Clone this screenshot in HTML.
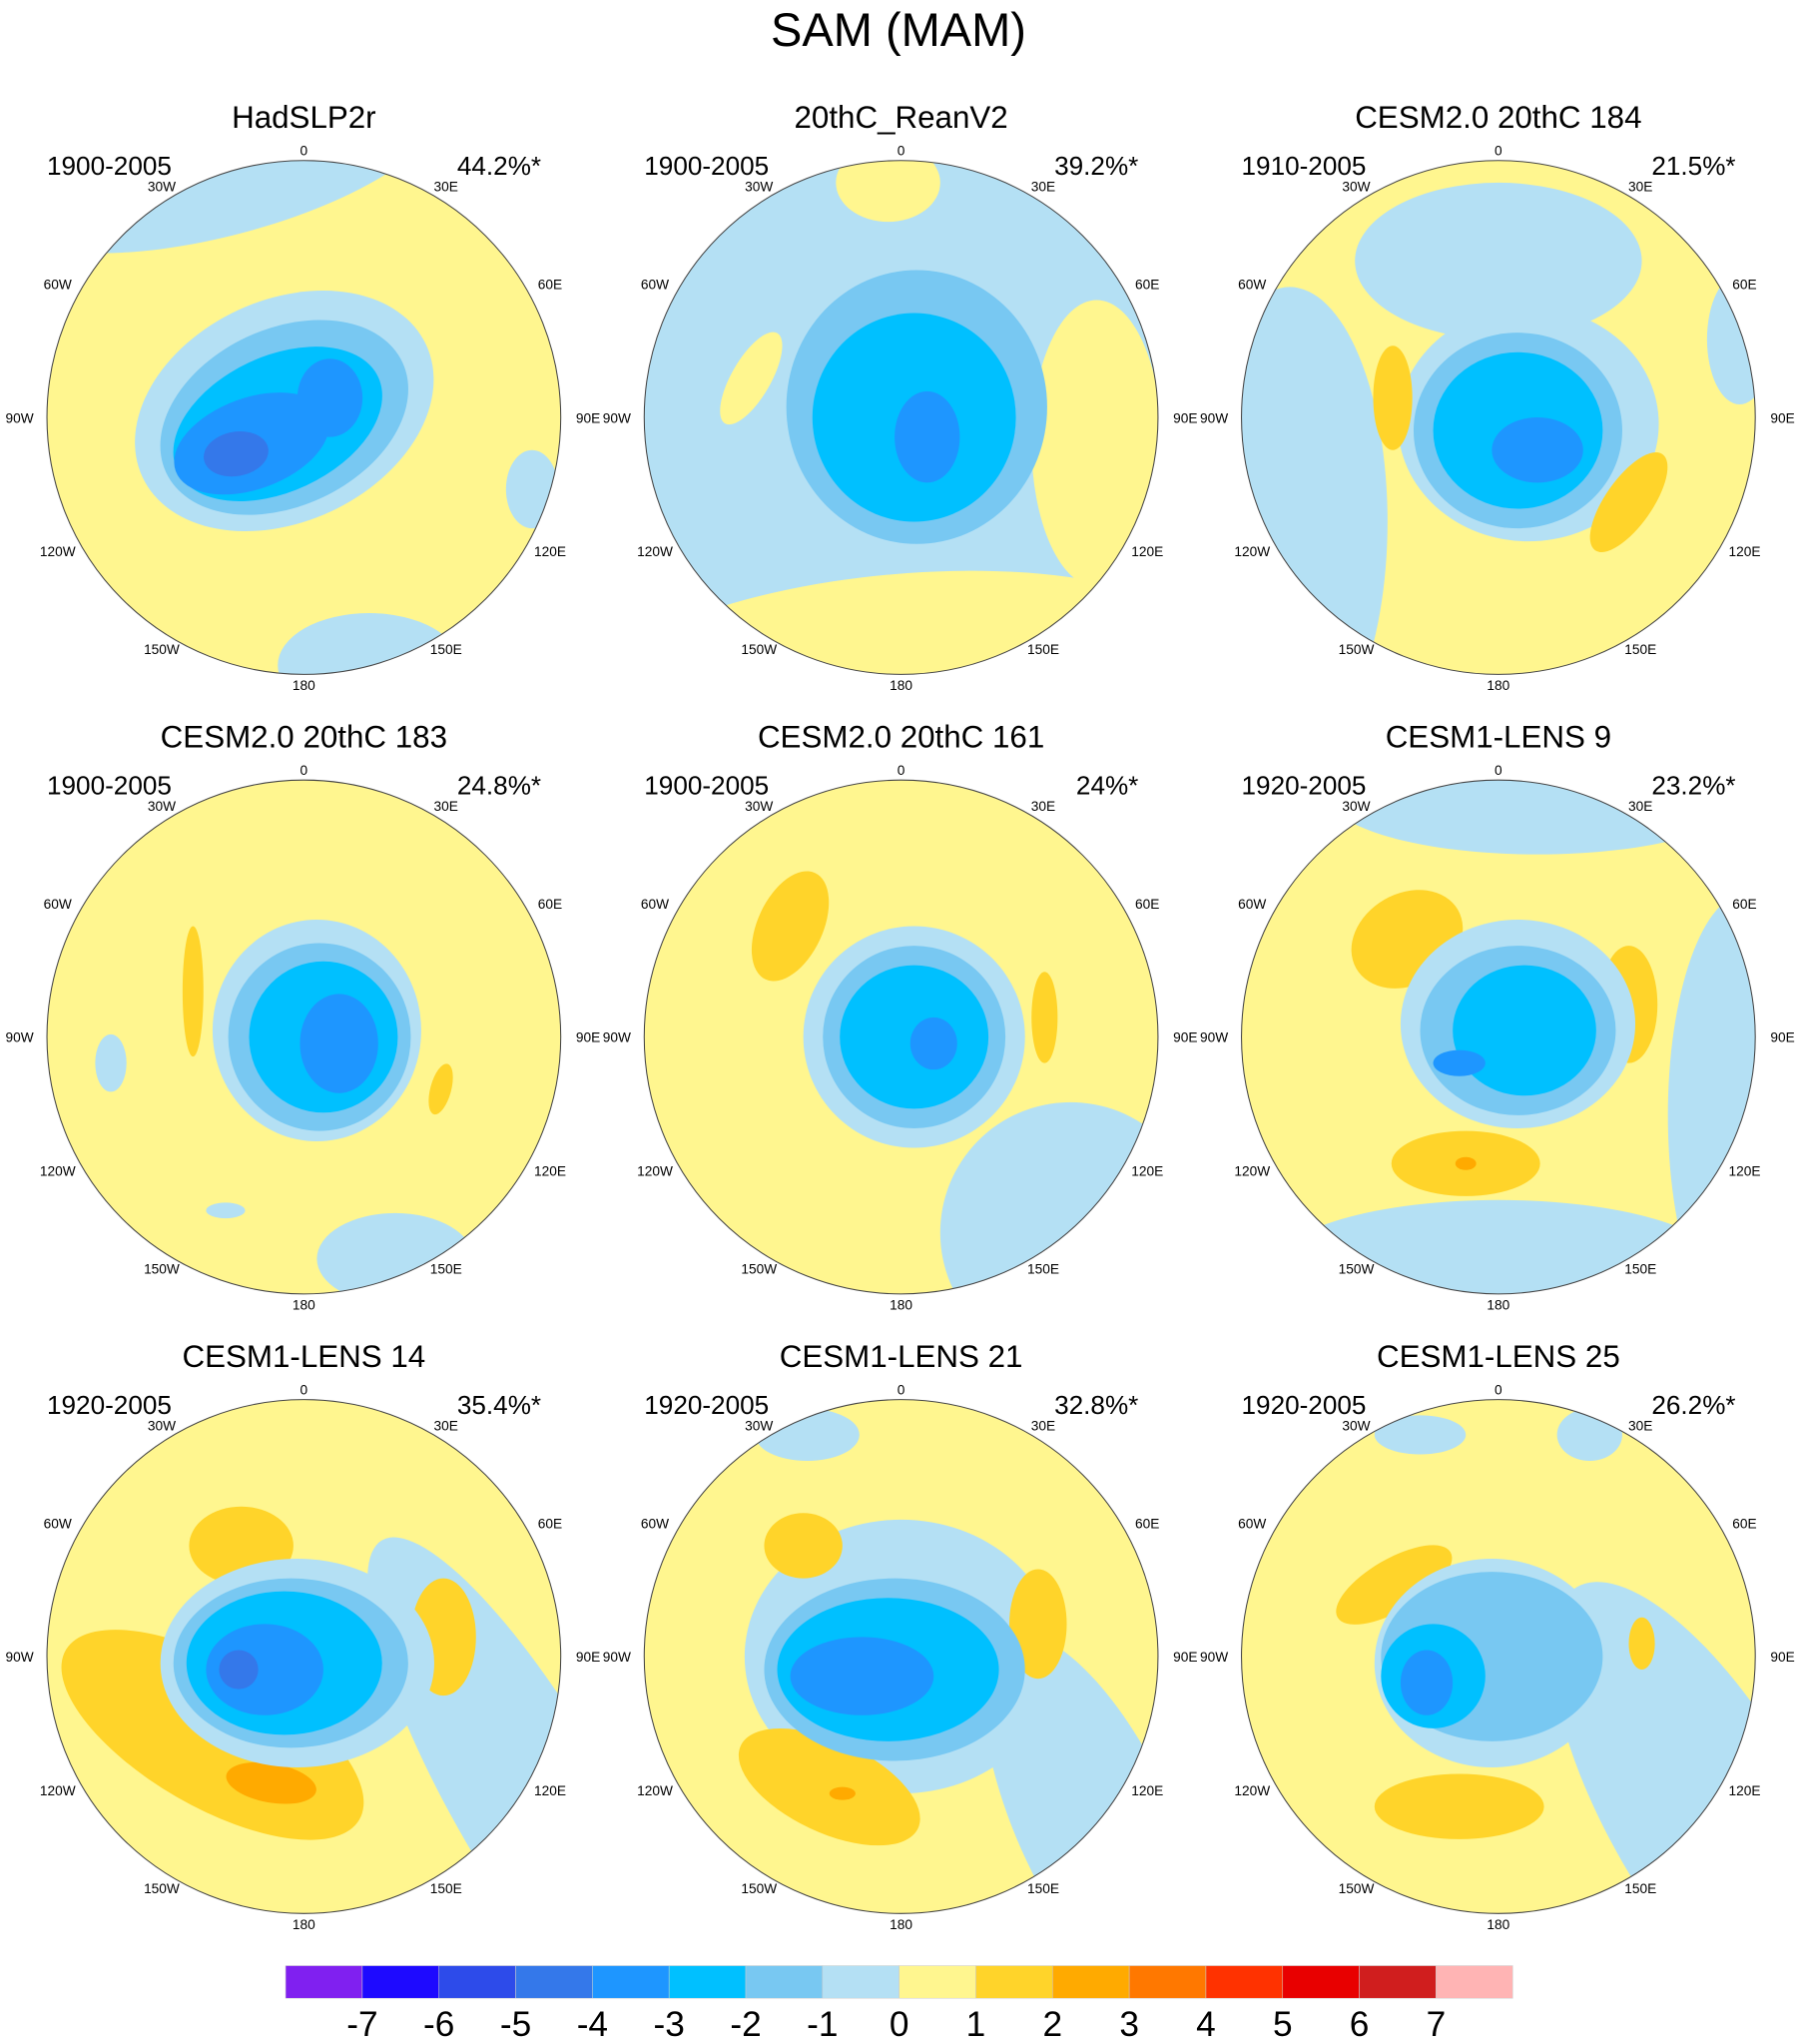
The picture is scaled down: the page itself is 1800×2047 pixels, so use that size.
<!DOCTYPE html>
<html><head><meta charset="utf-8"><style>
html,body{margin:0;padding:0;background:#fff;}
svg{display:block;font-family:"Liberation Sans",sans-serif;}
</style></head>
<body>
<svg id="fig" width="1800" height="2047" viewBox="0 0 1378 1567" xmlns="http://www.w3.org/2000/svg">
<text x="689" y="35" text-anchor="middle" font-size="36">SAM (MAM)</text>
</svg>
<script>
const levelColors = ["#8020f0","#1e0aff","#2d4bea","#3478ea","#1e96ff","#00c0ff","#78c8f2","#b4e0f4","#fff68f","#ffd42a","#ffaa00","#ff7800","#ff3200","#e80000","#d01e1e","#ffb4b4"];
const tickLabels = ["-7","-6","-5","-4","-3","-2","-1","0","1","2","3","4","5","6","7"];
const panelTitles = ["HadSLP2r","20thC_ReanV2","CESM2.0 20thC 184","CESM2.0 20thC 183","CESM2.0 20thC 161","CESM1-LENS 9","CESM1-LENS 14","CESM1-LENS 21","CESM1-LENS 25"];
const panelPeriods = ["1900-2005","1900-2005","1910-2005","1900-2005","1900-2005","1920-2005","1920-2005","1920-2005","1920-2005"];
const panelPercents = ["44.2%*","39.2%*","21.5%*","24.8%*","24%*","23.2%*","35.4%*","32.8%*","26.2%*"];
const panelBackground = [8,7,8,8,8,8,8,8,8];
const panelBlobs = [
 [[7,-60,-195,170,55,-15],[7,50,190,70,40,0],[7,175,55,20,30,0],[7,-15,-5,120,85,-25],[6,-15,0,100,68,-25],[5,-20,5,85,52,-25],[4,-40,20,62,35,-20],[4,20,-15,25,30,0],[3,-52,28,25,17,-10]],
 [[8,-10,-180,40,30,0],[8,0,200,240,80,-5],[8,150,20,50,110,0],[8,-115,-30,15,40,30],[6,12,-8,100,105,0],[5,10,0,78,80,0],[4,20,15,25,35,0]],
 [[7,0,-120,110,60,0],[7,-160,80,75,180,0],[7,185,-60,25,50,0],[7,23,5,100,90,0],[9,-81,-15,15,40,0],[9,100,65,18,45,35],[6,15,10,80,75,0],[5,15,10,65,60,0],[4,30,25,35,25,0]],
 [[7,-148,20,12,22,0],[7,70,170,60,35,0],[7,-60,133,15,6,0],[9,-85,-35,8,50,0],[9,105,40,8,20,15],[7,10,-5,80,85,0],[6,12,0,70,72,0],[5,15,0,57,58,0],[4,27,5,30,38,0]],
 [[7,130,150,100,100,-40],[9,-85,-85,25,45,25],[9,110,-15,10,35,0],[7,10,0,85,85,0],[6,10,0,70,70,0],[5,10,0,57,55,0],[4,25,5,18,20,0]],
 [[7,30,-185,160,45,0],[7,190,60,60,170,0],[7,0,175,170,50,0],[9,-70,-75,45,35,-30],[9,100,-25,22,45,0],[9,-25,97,57,25,0],[10,-25,97,8,5,0],[7,15,-10,90,80,0],[6,15,-5,75,65,0],[5,20,-5,55,50,0],[4,-30,20,20,10,0]],
 [[7,175,110,60,230,-30],[9,-48,-85,40,30,0],[9,107,-15,25,45,0],[9,-70,60,130,55,30],[10,-25,97,35,15,10],[7,-5,5,105,80,0],[6,-10,5,90,65,0],[5,-15,5,75,55,0],[4,-30,10,45,35,0],[3,-50,10,15,15,0]],
 [[7,150,130,60,160,-25],[7,-72,-170,40,20,0],[7,0,0,120,105,0],[9,-75,-85,30,25,0],[9,105,-25,22,42,0],[9,-55,100,75,35,25],[10,-45,105,10,5,0],[6,-5,10,100,70,0],[5,-10,10,85,55,0],[4,-30,15,55,30,0]],
 [[7,160,120,75,200,-30],[7,-60,-170,35,15,0],[7,70,-170,25,20,0],[9,-80,-55,50,20,-30],[9,110,-10,10,20,0],[9,-30,115,65,25,0],[7,-5,5,90,80,0],[6,-5,0,85,65,0],[5,-50,15,40,40,0],[4,-55,20,20,25,0]]
];
const lonLabels = ["0","30E","60E","90E","120E","150E","180","150W","120W","90W","60W","30W"];
const lonDeg = [0,30,60,90,120,150,180,210,240,270,300,330];

const NS="http://www.w3.org/2000/svg";
const svg=document.getElementById('fig');
function el(tag,attrs,parent){const e=document.createElementNS(NS,tag);for(const k in attrs)e.setAttribute(k,attrs[k]);(parent||svg).appendChild(e);return e;}
const colX=[233,691,1149], rowY=[320,795,1270], R=197;
const defs=el('defs',{});
panelTitles.forEach((t,i)=>{
  const cx=colX[i%3], cy=rowY[Math.floor(i/3)];
  const g=el('g',{});
  
  
  const cp=el('clipPath',{id:'cp'+i},defs);
  el('circle',{cx:cx,cy:cy,r:R},cp);
  const mg=el('g',{'clip-path':'url(#cp'+i+')'},g);
  const bg=el('circle',{cx:cx,cy:cy,r:R,fill:levelColors[panelBackground[i]]},mg);
  
  
  panelBlobs[i].forEach(b=>{
    const e=el('ellipse',{cx:cx+b[1],cy:cy+b[2],rx:b[3],ry:b[4],fill:levelColors[b[0]],transform:'rotate('+b[5]+' '+(cx+b[1])+' '+(cy+b[2])+')'},mg);
    
    
  });
  const oc=el('circle',{cx:cx,cy:cy,r:R,fill:'none',stroke:'#444','stroke-width':0.8},g);
  
  
  const tt=el('text',{x:cx,y:cy-222,'text-anchor':'middle','font-size':24},g);tt.textContent=t;
  
  
  const pt=el('text',{x:cx-197,y:cy-186,'font-size':20},g);pt.textContent=panelPeriods[i];
  
  
  const pc=el('text',{x:cx+182,y:cy-186,'text-anchor':'end','font-size':20},g);pc.textContent=panelPercents[i];
  
  
  lonLabels.forEach((l,k)=>{
    const a=lonDeg[k]*Math.PI/180;
    const lt=el('text',{x:cx+218*Math.sin(a),y:cy-205*Math.cos(a)+4,'text-anchor':'middle','font-size':10.5},g);
    lt.textContent=l;
    
    
  });
});
const cb=el('g',{});


const x0=219,x1=1160,w=(x1-x0)/levelColors.length;
levelColors.forEach((c,i)=>{
  const r=el('rect',{x:x0+i*w,y:1507,width:w,height:25,fill:c,stroke:'#ccc','stroke-width':0.4},cb);
  
  
});
tickLabels.forEach((t,i)=>{
  const tx=el('text',{x:x0+(i+1)*w,y:1561,'text-anchor':'middle','font-size':27},cb);
  tx.textContent=t;
  
  
});
</script>
</body></html>
